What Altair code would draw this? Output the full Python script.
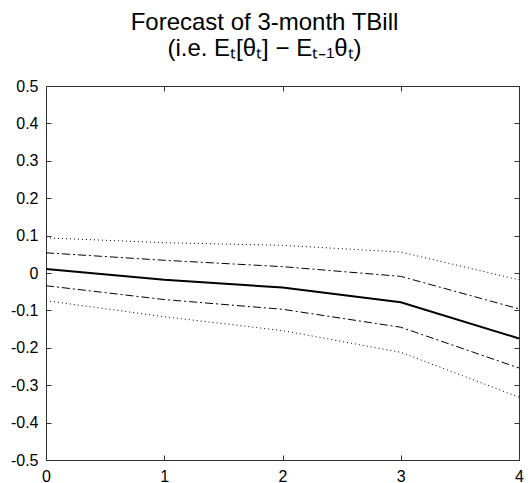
import altair as alt
import pandas as pd

horizon = [0, 1, 2, 3, 4]
median = [0.011, -0.018, -0.039, -0.078, -0.175]
upper68 = [0.054, 0.034, 0.017, -0.009, -0.096]
lower68 = [-0.034, -0.071, -0.097, -0.145, -0.254]
upper90 = [0.094, 0.081, 0.074, 0.056, -0.018]
lower90 = [-0.074, -0.117, -0.154, -0.212, -0.332]

x_ticks = [0, 1, 2, 3, 4]
y_ticks = [-0.5, -0.4, -0.3, -0.2, -0.1, 0.0, 0.1, 0.2, 0.3, 0.4, 0.5]
title_lines = ["Forecast of 3-month TBill", "(i.e. Eₜ[θₜ] − Eₜ₋₁θₜ)"]

rows = []
for name, vals, style in [
    ("median", median, "solid"),
    ("upper68", upper68, "dashdot"),
    ("lower68", lower68, "dashdot"),
    ("upper90", upper90, "dotted"),
    ("lower90", lower90, "dotted"),
]:
    for h, v in zip(horizon, vals):
        rows.append({"h": h, "v": v, "series": name, "style": style})
df = pd.DataFrame(rows)

FONT = "Liberation Sans"
label_expr = ("datum.value == 0 ? '0' : (datum.value < 0 ? '-' + format(-datum.value, '.1f')"
              " : format(datum.value, '.1f'))")

xscale = alt.Scale(domain=[0, 4], nice=False, zero=False)
yscale = alt.Scale(domain=[-0.5, 0.5], nice=False, zero=False)

common_axis = dict(domain=False, grid=False, tickSize=5, offset=-5, tickColor="#333",
                   tickWidth=1, labelFont=FONT, labelFontSize=16, labelColor="black",
                   title=None)

x_bottom = alt.X("h:Q", scale=xscale,
                 axis=alt.Axis(orient="bottom", values=x_ticks, format="d", labelPadding=8,
                               labelFlush=False, **common_axis))
y_left = alt.Y("v:Q", scale=yscale,
               axis=alt.Axis(orient="left", values=y_ticks, labelExpr=label_expr,
                             labelPadding=8, labelFlush=False, **common_axis))
x_plain = alt.X("h:Q", scale=xscale, axis=None)
y_plain = alt.Y("v:Q", scale=yscale, axis=None)

base = alt.Chart(df)

def layer(style, width, dash, x, y):
    props = {"strokeDash": dash} if dash else {}
    return base.transform_filter(alt.datum.style == style).mark_line(
        color="black", strokeWidth=width, **props).encode(x=x, y=y, detail="series:N")

dotted = layer("dotted", 1, [1, 3], x_bottom, y_left)
dashdot = layer("dashdot", 1, [8, 3, 2, 3], x_plain, y_plain)
solid = layer("solid", 2, None, x_plain, y_plain)

# top/right tick frames (no labels)
frame = base.transform_filter(alt.datum.series == "median").mark_line(opacity=0).encode(
    x=alt.X("h:Q", scale=xscale,
            axis=alt.Axis(orient="top", values=x_ticks, labels=False, **common_axis)),
    y=alt.Y("v:Q", scale=yscale,
            axis=alt.Axis(orient="right", values=y_ticks, labels=False, **common_axis)),
)

chart = alt.layer(dotted, dashdot, solid, frame).resolve_axis(
    x="independent", y="independent"
).properties(
    width=473, height=374,
    autosize=alt.AutoSizeParams(type="none"),
    padding={"left": 46, "top": 86, "right": 9, "bottom": 23},
    title=alt.TitleParams(text=title_lines, font=FONT, fontSize=24, fontWeight="normal",
                          lineHeight=26, anchor="middle", frame="group", dx=-18,
                          offset=17, color="black"),
).configure_view(stroke="#333", strokeWidth=1)

chart.save("out.html", embed_options={"renderer": "svg", "actions": False})
